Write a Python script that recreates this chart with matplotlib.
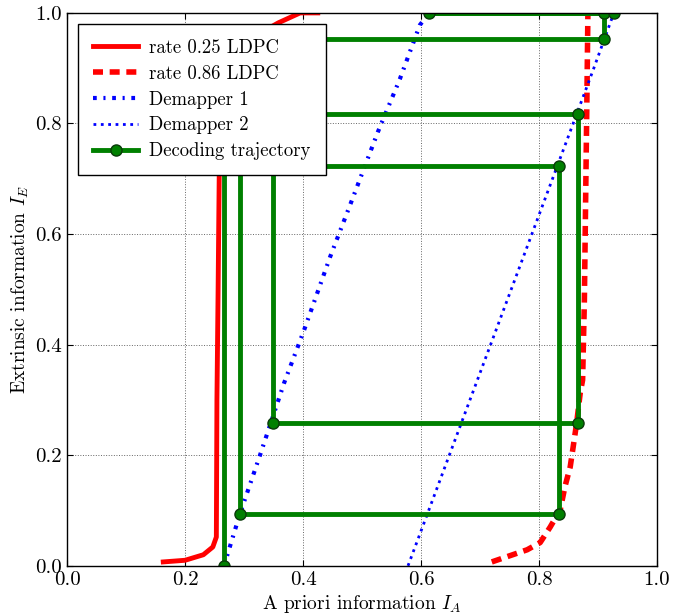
import numpy as np
import matplotlib
matplotlib.use("Agg")
import matplotlib.pyplot as plt

plt.rcParams['font.family'] = ['cmr10', 'DejaVu Serif']
plt.rcParams['mathtext.fontset'] = 'cm'
plt.rcParams['axes.formatter.use_mathtext'] = True

# rate 0.25 LDPC curve
ldpc25_x = [0.163, 0.200, 0.231, 0.247, 0.253, 0.254, 0.256, 0.258, 0.268, 0.290, 0.330, 0.358, 0.395, 0.425]
ldpc25_y = [0.007, 0.010, 0.020, 0.034, 0.052, 0.300, 0.500, 0.720, 0.840, 0.920, 0.965, 0.982, 1.000, 1.000]

# rate 0.86 LDPC curve
ldpc86_x = [0.720, 0.780, 0.802, 0.819, 0.836, 0.844, 0.853, 0.858, 0.864, 0.870, 0.874, 0.877, 0.879, 0.881, 0.883]
ldpc86_y = [0.007, 0.029, 0.042, 0.070, 0.101, 0.143, 0.179, 0.215, 0.259, 0.313, 0.336, 0.480, 0.650, 0.820, 1.000]

# demapper 1
dem1_x = [0.266, 0.293, 0.327, 0.368, 0.402, 0.446, 0.481, 0.527, 0.564, 0.598, 0.614]
dem1_y = [0.000, 0.094, 0.200, 0.331, 0.427, 0.559, 0.656, 0.785, 0.880, 0.978, 1.000]

# demapper 2
dem2_x = [0.578, 0.613, 0.648, 0.683, 0.718, 0.753, 0.788, 0.823, 0.858, 0.893, 0.927]
dem2_y = [0.000, 0.100, 0.200, 0.300, 0.400, 0.500, 0.600, 0.700, 0.800, 0.900, 1.000]

# decoding trajectory
traj_x = [0.266, 0.266, 0.834, 0.834, 0.293, 0.293, 0.866, 0.866, 0.349, 0.349, 0.910, 0.910, 0.614, 0.927]
traj_y = [0.000, 0.723, 0.723, 0.094, 0.094, 0.817, 0.817, 0.259, 0.259, 0.953, 0.953, 1.000, 1.000, 1.000]

ticks = [0.0, 0.2, 0.4, 0.6, 0.8, 1.0]

fig = plt.figure(figsize=(6.85, 6.15), dpi=100)
ax = fig.add_axes([0.098, 0.080, 0.861, 0.899])

ax.plot(ldpc25_x, ldpc25_y, color='red', lw=3.5, ls='-', label='rate 0.25 LDPC')
ax.plot(ldpc86_x, ldpc86_y, color='red', lw=4, dashes=[1.8, 1.2], label='rate 0.86 LDPC')
ax.plot(dem1_x, dem1_y, color='blue', lw=3, dashes=[0.9, 1.6, 0.5, 1.6], label='Demapper 1')
ax.plot(dem2_x, dem2_y, color='blue', lw=2, ls=':', label='Demapper 2')
ax.plot(traj_x, traj_y, color='green', lw=3.5, marker='o', ms=8,
        mfc='green', mec='#0a3a0a', mew=1, label='Decoding trajectory')

ax.set_xlim(0, 1)
ax.set_ylim(0, 1)
ax.set_xticks(ticks)
ax.set_yticks(ticks)
ax.set_xticklabels(['%.1f' % t for t in ticks])
ax.set_yticklabels(['%.1f' % t for t in ticks])
ax.tick_params(direction='in', length=4, labelsize=15, top=True, right=True, pad=4)
ax.grid(True, color='0.4', ls=':', lw=0.7)
for s in ax.spines.values():
    s.set_linewidth(1.0)

ax.set_xlabel(r'A priori information $I_A$', fontsize=14, labelpad=3)
ax.set_ylabel(r'Extrinsic information $I_E$', fontsize=14, labelpad=3)

leg = ax.legend(loc='upper left', bbox_to_anchor=(0.0186, 0.980), borderaxespad=0,
                fontsize=13.5, handlelength=2.4, handletextpad=0.6, labelspacing=0.42,
                borderpad=0.8, fancybox=False, framealpha=1, edgecolor='k')
leg.get_frame().set_linewidth(1.0)

fig.savefig('out.png', dpi=100)
